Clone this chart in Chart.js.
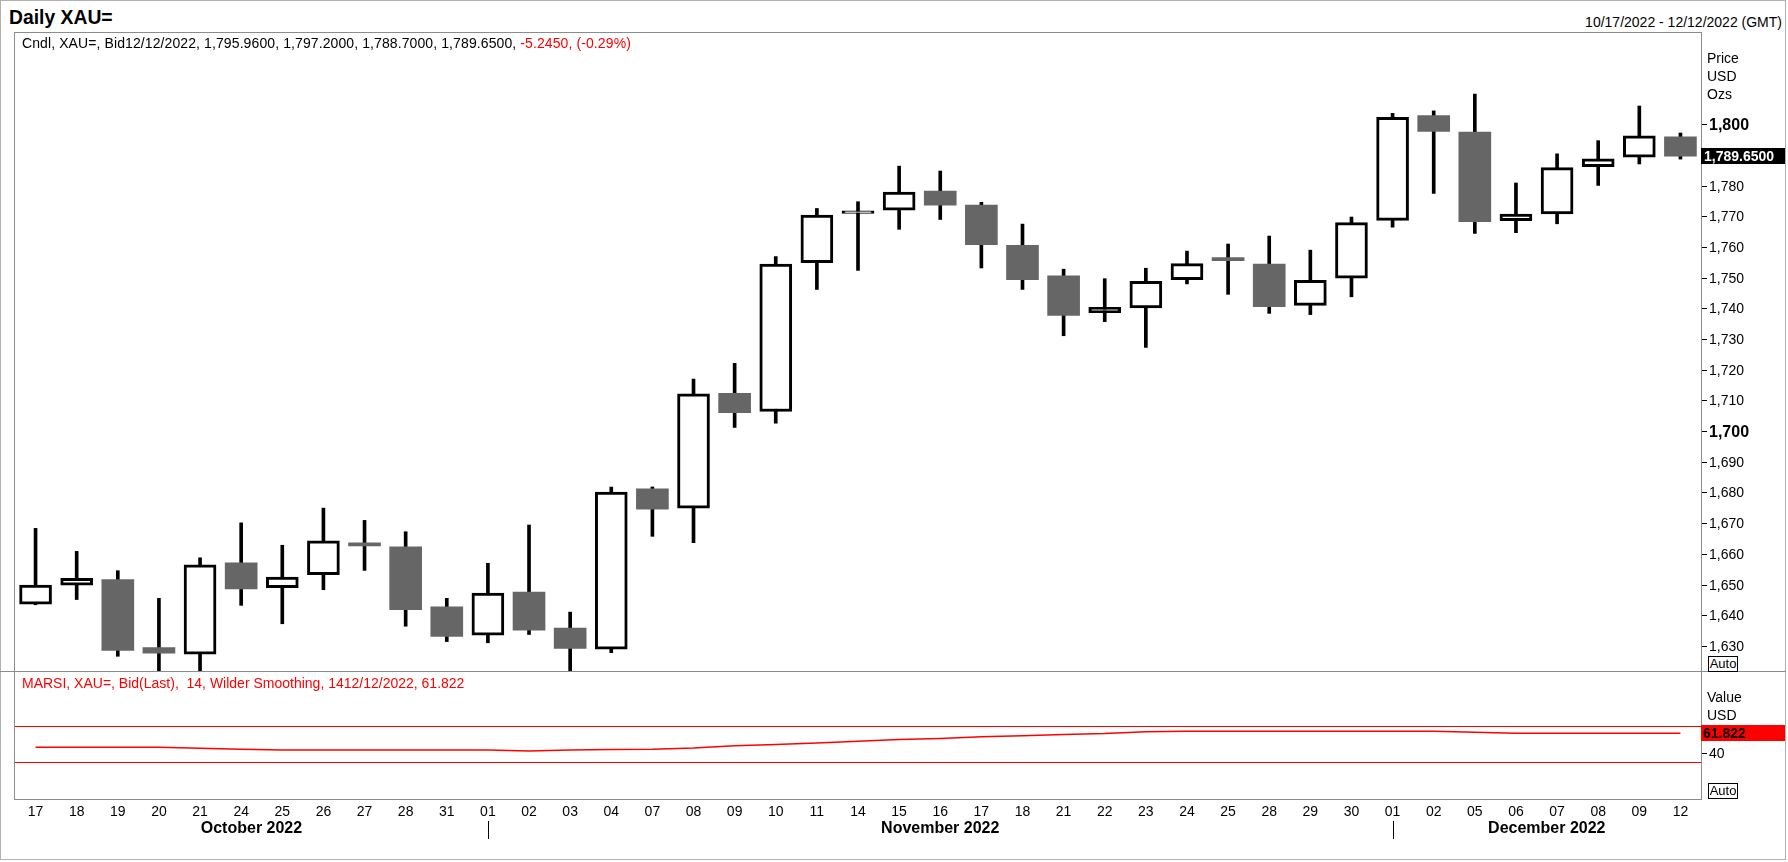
<!DOCTYPE html>
<html>
<head>
<meta charset="utf-8">
<title>Daily XAU=</title>
<script src="https://cdn.jsdelivr.net/npm/chart.js@4.4.1/dist/chart.umd.min.js"></script>
<style>
  html, body { margin: 0; padding: 0; background: #fff; }
  body { width: 1788px; height: 862px; position: relative; overflow: hidden;
         font-family: "Liberation Sans", Arial, sans-serif; color: #000; }
  .abs { position: absolute; white-space: pre; }
  .t14 { font-size: 14px; line-height: 16px; }
  .box { position: absolute; }
  .auto { position: absolute; border: 1px solid #000; font-size: 13px; line-height: 14px;
          width: 28px; text-align: center; background: #fff; }
  .red { color: #ff0000; }
</style>
</head>
<body>
<div class="box" style="left:0;top:0;width:1784px;height:858px;border:1px solid #b0b0b0;"></div>
<div class="box" style="left:14px;top:32px;width:1686px;height:766px;border:1px solid #8c8c8c;"></div>
<div class="box" style="left:0;top:671px;width:1786px;height:1px;background:#8c8c8c;"></div>

<div class="box" style="left:0;top:33px;width:1788px;height:638px;"><canvas id="priceChart"></canvas></div>
<div class="box" style="left:0;top:672px;width:1788px;height:188px;"><canvas id="rsiChart"></canvas></div>

<div class="abs" style="left:9px;top:4px;font-size:21px;line-height:26px;font-weight:bold;transform:scaleX(0.92);transform-origin:0 0;">Daily XAU=</div>
<div class="abs t14" style="right:6px;top:14px;">10/17/2022 - 12/12/2022 (GMT)</div>
<div class="abs t14" style="left:22px;top:35px;letter-spacing:0.1px;">Cndl, XAU=, Bid12/12/2022, 1,795.9600, 1,797.2000, 1,788.7000, 1,789.6500, <span class="red">-5.2450, (-0.29%)</span></div>
<div class="abs t14" style="left:1707px;top:50px;">Price</div>
<div class="abs t14" style="left:1707px;top:68px;">USD</div>
<div class="abs t14" style="left:1707px;top:86px;">Ozs</div>
<div class="auto" style="left:1708px;top:656px;">Auto</div>

<div class="abs t14 red" style="left:22px;top:675px;">MARSI, XAU=, Bid(Last),  14, Wilder Smoothing, 1412/12/2022, 61.822</div>
<div class="abs t14" style="left:1707px;top:689px;">Value</div>
<div class="abs t14" style="left:1707px;top:707px;">USD</div>
<div class="auto" style="left:1708px;top:783px;">Auto</div>

<script>
const FONT = '"Liberation Sans", Arial, sans-serif';

// trading days 17 Oct - 12 Dec 2022
const days = ["17","18","19","20","21","24","25","26","27","28","31",
              "01","02","03","04","07","08","09","10","11","14","15","16","17","18","21","22","23","24","25","28","29","30",
              "01","02","05","06","07","08","09","12"];
const months = ["October 2022", "November 2022", "December 2022"];
const monthStart = [0, 11, 33];

// OHLC (bid)
const opens  = [1643.6,1649.8,1651.6,1629.4,1627.3,1657.1,1649.0,1653.2,1663.6,1662.3,1642.7,
                1633.5,1647.5,1635.8,1628.9,1681.2,1674.9,1712.3,1706.4,1754.9,1771.0,1772.0,1778.3,1773.7,1760.6,1750.6,1738.6,1740.2,1749.4,1756.6,1754.5,1741.0,1749.9,
                1768.7,1802.9,1797.5,1768.6,1770.8,1786.2,1789.3,1795.96];
const highs  = [1668.3,1660.8,1654.5,1645.5,1658.7,1670.1,1662.8,1674.9,1670.9,1667.2,1645.5,
                1656.9,1669.4,1641.0,1681.8,1681.8,1717.0,1722.1,1756.9,1772.6,1774.8,1786.4,1784.8,1774.6,1767.5,1752.8,1749.7,1753.1,1758.7,1761.0,1763.6,1759.0,1769.8,
                1803.6,1804.4,1809.9,1780.9,1790.4,1794.7,1806.0,1797.2];
const lows   = [1643.4,1645.1,1626.6,1619.0,1619.0,1643.2,1637.2,1648.3,1654.6,1636.4,1631.4,
                1631.0,1633.7,1619.0,1627.8,1665.7,1663.6,1701.2,1702.6,1746.2,1752.4,1765.8,1769.0,1753.2,1746.2,1731.1,1735.7,1727.3,1748.0,1744.6,1738.4,1738.0,1743.8,
                1766.5,1777.5,1764.5,1764.7,1767.6,1780.1,1787.1,1788.7];
const closes = [1649.8,1652.0,1628.5,1627.6,1656.4,1648.6,1652.4,1664.2,1662.6,1641.8,1633.1,
                1647.2,1635.1,1629.2,1680.1,1674.6,1712.2,1706.0,1754.5,1770.4,1771.8,1777.9,1773.7,1760.8,1749.4,1737.7,1740.4,1748.8,1754.6,1755.6,1740.6,1749.2,1768.0,
                1802.3,1797.7,1768.3,1770.8,1785.9,1788.8,1796.3,1789.65];

// MARSI 14, Wilder smoothing
const rsi = [46.4,46.4,46.4,46.4,45.3,44.2,43.5,43.5,43.5,43.5,43.5,
             43.5,42.4,43.5,44.1,44.4,45.7,48.0,49.5,51.2,52.9,54.9,55.9,57.8,59.0,60.3,61.4,63.5,63.9,63.9,63.9,63.9,63.9,
             63.9,63.9,62.8,61.8,61.8,61.8,61.8,61.822];

const priceTicks = [1630,1640,1650,1660,1670,1680,1690,1700,1710,1720,1730,1740,1750,1760,1770,1780,1790,1800];
const boldTicks = [1700, 1800];
const rsiLevels = [70, 30];
const rsiTicks = [40];

Chart.defaults.font.family = FONT;

const isUp = opens.map((o, i) => closes[i] >= o);

// labels on the right of the price panel + last price box
const priceAxis = {
  id: 'priceAxis',
  afterDraw(chart) {
    const ctx = chart.ctx, y = chart.scales.y, a = chart.chartArea;
    ctx.save();
    ctx.textAlign = 'left';
    ctx.textBaseline = 'middle';
    priceTicks.forEach(v => {
      const py = Math.round(y.getPixelForValue(v)) + 0.5;
      ctx.strokeStyle = '#000';
      ctx.lineWidth = 1;
      ctx.beginPath();
      ctx.moveTo(a.right + 1, py);
      ctx.lineTo(a.right + 6, py);
      ctx.stroke();
      ctx.font = (boldTicks.includes(v) ? 'bold 16px ' : '14px ') + FONT;
      ctx.fillStyle = '#000';
      ctx.fillText(v.toLocaleString('en-US'), a.right + 8, py + 1);
    });
    const last = closes[closes.length - 1];
    const ly = Math.round(y.getPixelForValue(last));
    ctx.fillStyle = '#000';
    ctx.fillRect(a.right, ly - 8, 84, 16);
    ctx.fillStyle = '#fff';
    ctx.font = 'bold 14px ' + FONT;
    ctx.fillText(last.toLocaleString('en-US', { minimumFractionDigits: 4 }), a.right + 3, ly + 1);
    ctx.restore();
  }
};

// rsi guide lines, value box, month row
const rsiExtras = {
  id: 'rsiExtras',
  beforeDatasetsDraw(chart) {
    const ctx = chart.ctx, y = chart.scales.y, a = chart.chartArea;
    ctx.save();
    ctx.strokeStyle = '#ff0000';
    ctx.lineWidth = 1.2;
    rsiLevels.forEach(v => {
      const py = Math.round(y.getPixelForValue(v)) + 0.5;
      ctx.beginPath();
      ctx.moveTo(a.left, py);
      ctx.lineTo(a.right, py);
      ctx.stroke();
    });
    ctx.restore();
  },
  afterDraw(chart) {
    const ctx = chart.ctx, x = chart.scales.x, y = chart.scales.y, a = chart.chartArea;
    ctx.save();
    ctx.textAlign = 'left';
    ctx.textBaseline = 'middle';
    rsiTicks.forEach(v => {
      const py = Math.round(y.getPixelForValue(v)) + 0.5;
      ctx.strokeStyle = '#000';
      ctx.lineWidth = 1;
      ctx.beginPath();
      ctx.moveTo(a.right + 1, py);
      ctx.lineTo(a.right + 6, py);
      ctx.stroke();
      ctx.fillStyle = '#000';
      ctx.font = '14px ' + FONT;
      ctx.fillText(String(v), a.right + 8, py + 1);
    });
    const last = rsi[rsi.length - 1];
    const ly = Math.round(y.getPixelForValue(last));
    ctx.fillStyle = '#ff0000';
    ctx.fillRect(a.right, ly - 8, 84, 16);
    ctx.fillStyle = '#000';
    ctx.font = 'bold 14px ' + FONT;
    ctx.fillText(last.toFixed(3), a.right + 2, ly + 1);

    // months
    const bounds = [a.left];
    monthStart.slice(1).forEach(i => bounds.push(x.getPixelForValue(i)));
    bounds.push(a.right);
    ctx.strokeStyle = '#000';
    ctx.lineWidth = 1;
    monthStart.slice(1).forEach(i => {
      const px = Math.round(x.getPixelForValue(i)) + 0.5;
      ctx.beginPath();
      ctx.moveTo(px, a.bottom + 22);
      ctx.lineTo(px, a.bottom + 40);
      ctx.stroke();
    });
    ctx.textAlign = 'center';
    ctx.font = 'bold 16px ' + FONT;
    months.forEach((m, k) => {
      ctx.fillText(m, (bounds[k] + bounds[k + 1]) / 2, a.bottom + 30);
    });
    ctx.restore();
  }
};

new Chart(document.getElementById('priceChart'), {
  type: 'bar',
  data: {
    labels: days,
    datasets: [
      {
        label: 'wick',
        data: lows.map((l, i) => [l, highs[i]]),
        backgroundColor: '#000',
        borderWidth: 0,
        barThickness: 3,
        grouped: false,
        order: 2
      },
      {
        label: 'body',
        data: opens.map((o, i) => [o, closes[i]]),
        backgroundColor: isUp.map(u => u ? '#ffffff' : '#666666'),
        borderColor: '#000',
        borderWidth: isUp.map(u => u ? 3 : 0),
        borderSkipped: false,
        barThickness: 32,
        grouped: false,
        order: 1
      }
    ]
  },
  options: {
    responsive: true,
    maintainAspectRatio: false,
    animation: false,
    events: [],
    layout: { padding: { left: 15, right: 0, top: 0, bottom: 0 } },
    plugins: { legend: { display: false }, tooltip: { enabled: false } },
    scales: {
      x: { display: false, offset: true },
      y: {
        position: 'right',
        min: 1621.8,
        max: 1829.8,
        afterFit: s => { s.width = 87; },
        ticks: { display: false },
        grid: { display: false },
        border: { display: false }
      }
    }
  },
  plugins: [priceAxis]
});

new Chart(document.getElementById('rsiChart'), {
  type: 'line',
  data: {
    labels: days,
    datasets: [{
      label: 'MARSI',
      data: rsi,
      borderColor: '#ff0000',
      borderWidth: 1.5,
      pointRadius: 0,
      tension: 0,
      fill: false
    }]
  },
  options: {
    responsive: true,
    maintainAspectRatio: false,
    animation: false,
    events: [],
    layout: { padding: { left: 15, right: 0, top: 0, bottom: 0 } },
    plugins: { legend: { display: false }, tooltip: { enabled: false } },
    scales: {
      x: {
        offset: true,
        afterFit: s => { s.height = 61; },
        grid: { display: false, drawTicks: false },
        border: { display: false },
        ticks: { autoSkip: false, maxRotation: 0, minRotation: 0, padding: 5,
                 color: '#000', font: { size: 14 } }
      },
      y: {
        position: 'right',
        min: -10.1,
        max: 128.7,
        afterFit: s => { s.width = 87; },
        ticks: { display: false },
        grid: { display: false },
        border: { display: false }
      }
    }
  },
  plugins: [rsiExtras]
});
</script>
</body>
</html>
